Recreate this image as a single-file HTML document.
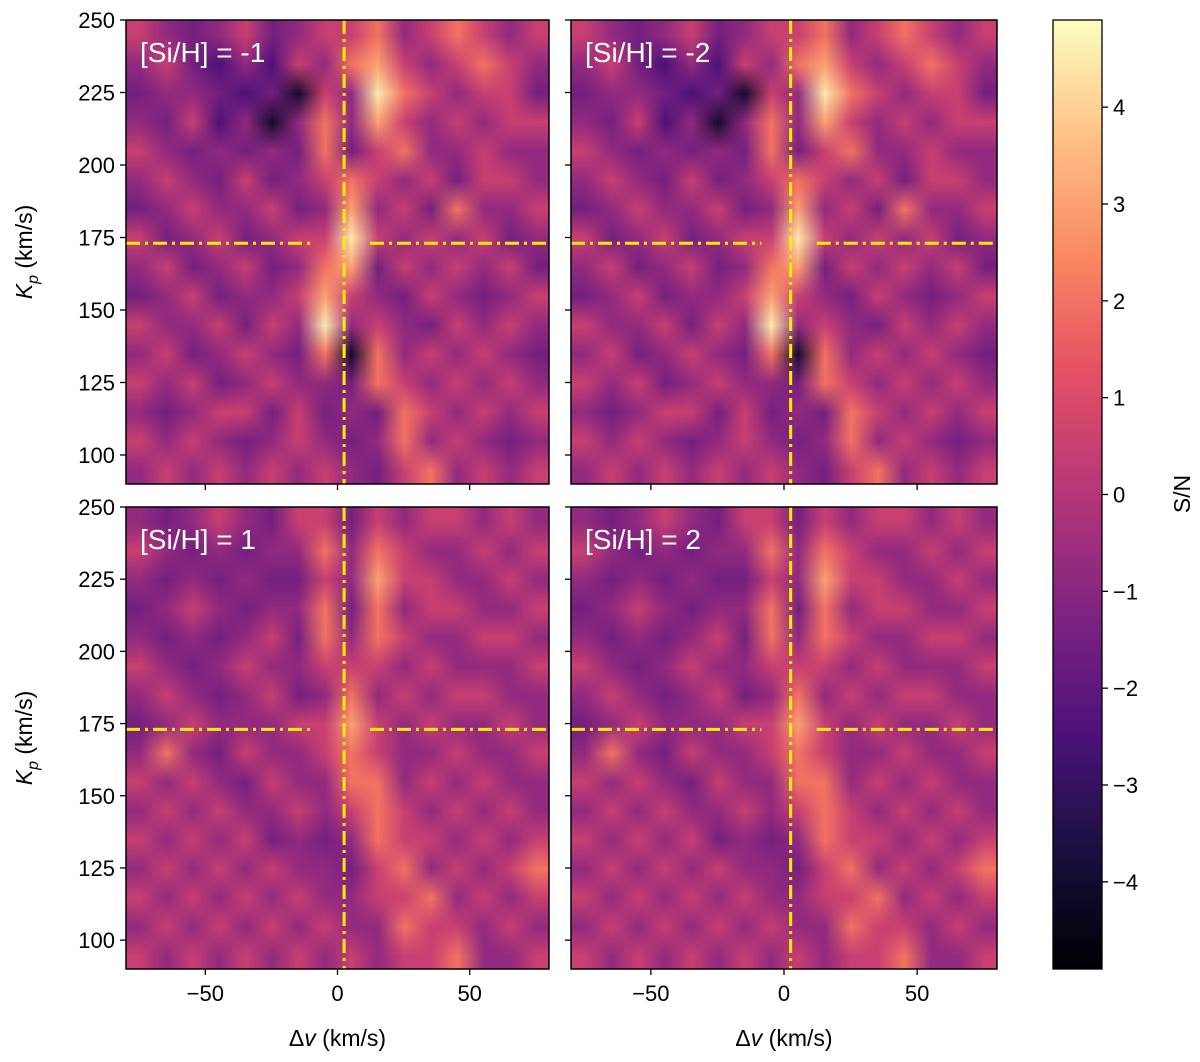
<!DOCTYPE html>
<html><head><meta charset="utf-8"><style>
body{margin:0;background:#fff;width:1200px;height:1062px;position:relative;overflow:hidden;font-family:"Liberation Sans","DejaVu Sans",sans-serif}
canvas{position:absolute;image-rendering:auto}
svg{position:absolute;left:0;top:0}
</style></head><body>
<canvas id="c0" style="left:126px;top:20px;width:423px;height:464px"></canvas>
<canvas id="c1" style="left:571px;top:20px;width:426px;height:464px"></canvas>
<canvas id="c2" style="left:126px;top:507px;width:423px;height:462px"></canvas>
<canvas id="c3" style="left:571px;top:507px;width:426px;height:462px"></canvas>
<canvas id="cb" style="left:1053px;top:20px;width:49px;height:949px"></canvas>
<svg id="ov" width="1200" height="1062"></svg>
<script>
// Data
const xCenters=[-75,-65,-55,-45,-35,-25,-15,-5,5,15,25,35,45,55,65,75];
const kpCenters=[245,235,225,215,205,195,185,175,165,155,145,135,125,115,105,95];
const topGrid=[
[.5,-.8,-1.5,-.8,.5,-1.5,-.8,.5,.5,2,-.8,.5,2,.5,-.8,.5],
[-.8,.5,-1.5,-2.5,-.8,-2.5,.5,-.8,2,3,.5,-.8,.5,2,.5,-.8],
[-1.5,-.8,-.8,-1.5,-2.5,-1.5,-4,.5,-.8,4.5,2,.5,-.8,.5,.5,-1.5],
[-.8,-1.5,.5,-2.5,-.8,-4,-.8,2,-.8,3,.5,-.8,.5,-.8,.5,.5],
[.5,-.8,-1.5,-.8,-1.5,-.8,-1.5,2,-1.5,.5,2,-.8,-.8,.5,-.8,-.8],
[-.8,.5,-.8,-1.5,.5,-1.5,-.8,.5,2,.5,-.8,.5,-1.5,.5,.5,-.8],
[-1.5,-.8,.5,-.8,-.8,.5,-1.5,-.8,3,-.8,.5,-1.5,2,-.8,-.8,.5],
[.5,-1.5,-.8,.5,-1.5,-.8,.5,.5,4.5,.5,-.8,.5,-.8,.5,-1.5,-.8],
[-.8,.5,-1.5,-.8,.5,-1.5,-.8,2,3,-1.5,.5,-.8,.5,-.8,.5,-1.5],
[-1.5,-.8,.5,-1.5,-.8,-.8,.5,3,.5,-.8,-1.5,.5,-.8,-1.5,-.8,.5],
[.5,-.8,-.8,.5,-1.5,.5,-.8,4.5,-.8,.5,-.8,-1.5,.5,-.8,.5,-.8],
[-.8,.5,-1.5,-.8,.5,-.8,-1.5,2,-4,2,-.8,.5,-.8,.5,-.8,-1.5],
[.5,-.8,.5,-1.5,-.8,.5,-.8,-.8,-1.5,2,.5,-.8,.5,-.8,.5,-.8],
[-.8,-1.5,-.8,.5,.5,-1.5,.5,-1.5,-.8,-1.5,2,.5,-.8,.5,-.8,.5],
[.5,-.8,.5,-.8,-1.5,-.8,.5,-.8,-1.5,-.8,2,-.8,.5,-.8,-1.5,-.8],
[-.8,.5,-.8,.5,-.8,.5,-.8,.5,-.8,-1.5,.5,2,-.8,.5,-.8,.5]];
const bottomGrid=[
[-.8,-1.5,-.8,.5,-.8,-1.5,.5,.5,-1.5,.5,-.8,.5,.5,-.8,.5,-.8],
[.5,-.8,-1.5,-.8,-1.5,-.8,-.8,2,-.8,2,.5,-.8,-.8,.5,-.8,.5],
[-.8,-1.5,-.8,-1.5,-.8,-1.5,-1.5,.5,-.8,3,.5,.5,-.8,-.8,.5,-.8],
[-1.5,-.8,.5,-.8,-1.5,-.8,-.8,2,-1.5,2,-.8,.5,.5,-.8,-.8,.5],
[-.8,-1.5,-.8,-1.5,-.8,.5,-1.5,2,-.8,2,.5,-.8,-.8,.5,.5,-.8],
[.5,-.8,-1.5,-.8,.5,-.8,-.8,.5,.5,.5,-.8,.5,-.8,-.8,-.8,.5],
[-.8,.5,-.8,-1.5,-.8,.5,-1.5,-.8,2,-.8,.5,-.8,.5,.5,-.8,-.8],
[-1.5,-.8,.5,-.8,-.8,-.8,.5,.5,3,.5,-.8,.5,-.8,-.8,.5,-.8],
[-.8,2,-.8,-1.5,.5,-.8,-.8,.5,2,.5,-.8,-.8,.5,-.8,-.8,.5],
[.5,-.8,.5,-.8,-1.5,.5,-.8,-.8,2,2,-.8,.5,-.8,.5,-.8,-.8],
[-.8,.5,-.8,.5,-.8,-.8,.5,-.8,.5,2,.5,-.8,.5,-.8,.5,-.8],
[.5,-.8,.5,-.8,.5,-1.5,-.8,-1.5,-.8,2,.5,.5,-.8,.5,-.8,.5],
[-.8,.5,-.8,.5,-.8,.5,-.8,-.8,-1.5,.5,2,-.8,.5,-.8,.5,2],
[.5,-.8,.5,-.8,.5,-.8,.5,-.8,-.8,.5,.5,2,-.8,.5,-.8,.5],
[-.8,.5,-.8,.5,-.8,.5,-.8,.5,-.8,-.8,2,.5,.5,-.8,.5,-.8],
[.5,-.8,.5,-.8,.5,-.8,.5,-.8,.5,-.8,.5,.5,2,-.8,-.8,.5]];
const panelLabels=["[Si/H] = -1","[Si/H] = -2","[Si/H] = 1","[Si/H] = 2"];
const xTicks=[-50,0,50];
const yTicks=[100,125,150,175,200,225,250];
const cbTicks=[-4,-3,-2,-1,0,1,2,3,4];
const vmin=-4.9,vmax=4.9;
const xMin=-80,xMax=80,yMin=90,yMax=250;
const markerV=2.5,markerK=173,gapLo=-8.5,gapHi=12.3;

const stops=[[0,[0,0,4]],[.13,[28,16,68]],[.25,[79,18,123]],[.38,[129,37,129]],[.5,[181,54,122]],[.63,[229,80,100]],[.75,[251,135,97]],[.88,[254,194,135]],[1,[252,253,191]]];
function magma(v){let t=(v-vmin)/(vmax-vmin);t=Math.max(0,Math.min(1,t));
 for(let i=1;i<stops.length;i++){if(t<=stops[i][0]){const a=stops[i-1],b=stops[i];const f=(t-a[0])/(b[0]-a[0]);return a[1].map((c,j)=>Math.round(c+(b[1][j]-c)*f));}}return stops[stops.length-1][1];}
function paint(id,grid){const c=document.getElementById(id);c.width=grid[0].length;c.height=grid.length;const g=c.getContext('2d');
 grid.forEach((row,r)=>row.forEach((v,k)=>{const m=magma(v);g.fillStyle=`rgb(${m})`;g.fillRect(k,r,1,1);}));}
paint('c0',topGrid);paint('c1',topGrid);paint('c2',bottomGrid);paint('c3',bottomGrid);
(function(){const c=document.getElementById('cb');c.width=1;c.height=200;const g=c.getContext('2d');
 for(let i=0;i<200;i++){const v=vmax-(vmax-vmin)*i/199;g.fillStyle=`rgb(${magma(v)})`;g.fillRect(0,i,1,1);}})();

const NS='http://www.w3.org/2000/svg';const svg=document.getElementById('ov');
function el(t,a,txt){const e=document.createElementNS(NS,t);for(const k in a)e.setAttribute(k,a[k]);if(txt!==undefined)e.textContent=txt;svg.appendChild(e);return e;}
const panels=[{x:126,y:20,w:423,h:464,yl:true,xl:false},{x:571,y:20,w:426,h:464,yl:false,xl:false},{x:126,y:507,w:423,h:462,yl:true,xl:true},{x:571,y:507,w:426,h:462,yl:false,xl:true}];
panels.forEach((p,i)=>{
 const sx=v=>p.x+(v-xMin)/(xMax-xMin)*p.w, sy=v=>p.y+(yMax-v)/(yMax-yMin)*p.h;
 const dash='14 5 3 5';
 let l=el('line',{x1:sx(markerV),x2:sx(markerV),y1:p.y,y2:p.y+p.h,stroke:'#ffee00','stroke-width':3,'stroke-dasharray':dash});
 
 l=el('line',{x1:p.x,x2:sx(gapLo),y1:sy(markerK),y2:sy(markerK),stroke:'#ffee00','stroke-width':3,'stroke-dasharray':dash});
 
 l=el('line',{x1:sx(gapHi),x2:p.x+p.w,y1:sy(markerK),y2:sy(markerK),stroke:'#ffee00','stroke-width':3,'stroke-dasharray':dash});
 
 const r=el('rect',{x:p.x,y:p.y,width:p.w,height:p.h,fill:'none',stroke:'#000','stroke-width':1.5});
 
 yTicks.forEach(v=>{el('line',{x1:p.x-6,x2:p.x,y1:sy(v),y2:sy(v),stroke:'#000','stroke-width':1.3});
  if(p.yl){const t=el('text',{x:p.x-11,y:sy(v)+8,'font-size':22,'text-anchor':'end'},String(v));}});
 xTicks.forEach(v=>{el('line',{x1:sx(v),x2:sx(v),y1:p.y+p.h,y2:p.y+p.h+6,stroke:'#000','stroke-width':1.3});
  if(p.xl){const t=el('text',{x:sx(v),y:p.y+p.h+32,'font-size':22,'text-anchor':'middle'},v<0?'\u2212'+(-v):String(v));}});
 const lt=el('text',{x:p.x+14,y:p.y+42,'font-size':28,fill:'#fff'},panelLabels[i]);
 
 if(p.yl){const yl=el('text',{x:0,y:0,'font-size':23,'text-anchor':'middle',transform:`translate(32,${p.y+p.h/2}) rotate(-90)`});
  yl.innerHTML='<tspan font-style="italic">K</tspan><tspan font-style="italic" font-size="16" dy="6">p</tspan><tspan dy="-6"> (km/s)</tspan>';
  }
 if(p.xl){const xl=el('text',{x:p.x+p.w/2,y:1046,'font-size':23,'text-anchor':'middle'});
  xl.innerHTML='Δ<tspan font-style="italic">v</tspan> (km/s)';
  }
});
const cbr=el('rect',{x:1053,y:20,width:49,height:949,fill:'none',stroke:'#000','stroke-width':1.3});

cbTicks.forEach(v=>{const y=20+(vmax-v)/(vmax-vmin)*949;
 el('line',{x1:1102,x2:1108,y1:y,y2:y,stroke:'#000','stroke-width':1.3});
 const t=el('text',{x:1113,y:y+8,'font-size':22},v<0?'\u2212'+(-v):String(v));
 });
const sn=el('text',{x:0,y:0,'font-size':23,'text-anchor':'middle',transform:'translate(1190,494) rotate(-90)'},'S/N');

</script>
</body></html>
